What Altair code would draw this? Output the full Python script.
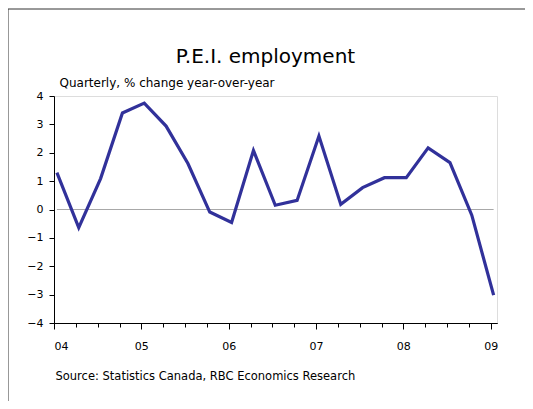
import altair as alt
import pandas as pd

# Quarterly data, 2004Q1 .. 2009Q1
years = [2004] * 4 + [2005] * 4 + [2006] * 4 + [2007] * 4 + [2008] * 4 + [2009]
quarters = [1, 2, 3, 4] * 5 + [1]
values = [1.30, -0.64, 1.09, 3.40, 3.75, 2.94, 1.62, -0.09, -0.46, 2.08, 0.15,
          0.32, 2.59, 0.18, 0.77, 1.12, 1.12, 2.17, 1.65, -0.20, -3.02]

year_ticks = [2004, 2005, 2006, 2007, 2008, 2009]
quarter_ticks = [2004 + i / 4 for i in range(21)]
y_ticks = [-4, -3, -2, -1, 0, 1, 2, 3, 4]

title_text = "P.E.I. employment"
subtitle_text = "Quarterly, % change year-over-year"
source_text = "Source: Statistics Canada, RBC Economics Research"

# observations are dated in the middle of the quarter's first month
df = pd.DataFrame({
    "t": [y + (q - 1) / 4 + 0.4 / 12 for y, q in zip(years, quarters)],
    "v": values,
})
zdf = pd.DataFrame({"x0": [df["t"].min()], "x1": [df["t"].max()], "y": [0]})
frame_df = pd.DataFrame({"f": [0]})

W, H = 443, 227
FONT = "DejaVu Sans"

xscale = alt.Scale(domain=[2004, 2009.072], nice=False, zero=False)
yscale = alt.Scale(domain=[-4, 4], nice=False, zero=False)
yaxis = alt.Axis(values=y_ticks, tickSize=5, labelPadding=6, grid=False,
                 domainColor="black", tickColor="black", labelFontSize=11,
                 labelFont=FONT, labelColor="black",
                 title=subtitle_text, titleAngle=0, titleAlign="left",
                 titleBaseline="alphabetic", titleX=5, titleY=-10,
                 titleFontSize=12, titleFontWeight="normal", titleFont=FONT,
                 titleColor="black")

frame = alt.Chart(frame_df).mark_rect(filled=False, color="#333", strokeWidth=1).encode(
    x=alt.value(-46), x2=alt.value(W + 80), y=alt.value(-87), y2=alt.value(H + 120)
)

zero = alt.Chart(zdf).mark_rule(color="#a8a8a8", strokeWidth=1).encode(
    x=alt.X("x0:Q", scale=xscale,
            axis=alt.Axis(values=year_ticks, format="d",
                          labelExpr="substring(datum.label, 2)",
                          tickSize=6, labelPadding=11, grid=False, orient="bottom",
                          domainColor="black", tickColor="black", labelFontSize=11,
                          labelFont=FONT, labelColor="black",
                          title=source_text, titleAnchor="start", titleAlign="left",
                          titleBaseline="alphabetic", titleX=1, titleY=56,
                          titleFontSize=11.5, titleFontWeight="normal", titleFont=FONT,
                          titleColor="black")),
    x2="x1:Q",
    y=alt.Y("y:Q", scale=yscale, axis=yaxis),
)

line = alt.Chart(df).mark_line(color="#31319a", strokeWidth=3.2).encode(
    x=alt.X("t:Q", scale=xscale,
            axis=alt.Axis(values=quarter_ticks, labels=False, tickSize=4, grid=False,
                          orient="bottom", domainColor="black", tickColor="black",
                          title=None)),
    y=alt.Y("v:Q", scale=yscale, axis=yaxis),
)

chart = alt.layer(frame, zero, line).resolve_axis(x="independent").properties(
    width=W, height=H,
    title=alt.Title(title_text, fontSize=20, font=FONT, fontWeight="normal",
                    anchor="middle", frame="group", offset=-74, baseline="alphabetic",
                    dx=-10, color="black"),
    autosize=alt.AutoSizeParams(type="none"),
    padding={"left": 46, "top": 88, "right": 28, "bottom": 78},
).configure_view(stroke="#555", strokeWidth=1).configure(background="white")

chart.save("out.html", embed_options={"renderer": "svg", "actions": False})
